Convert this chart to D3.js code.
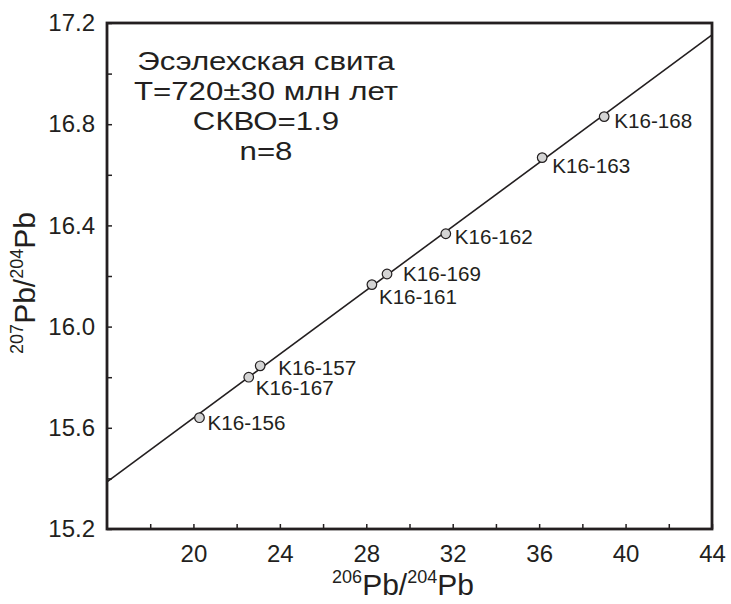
<!DOCTYPE html>
<html><head><meta charset="utf-8">
<script src="https://cdn.jsdelivr.net/npm/d3@7"></script>
<style>body{margin:0;background:#fff;} text{font-family:"Liberation Sans",Arial,sans-serif;fill:#231f20;}</style>
</head><body>
<svg id="c" width="731" height="604"></svg>
<script>
const samples = ["K16-156","K16-167","K16-157","K16-161","K16-169","K16-162","K16-163","K16-168"];
const pb206 = [20.28, 22.56, 23.09, 28.26, 28.96, 31.68, 36.14, 39.01];
const pb207 = [15.64, 15.80, 15.845, 16.166, 16.208, 16.367, 16.668, 16.83];
// label offsets (px) relative to point
const labelDx = [8, 7, 18, 7, 16, 9, 10, 10];
const labelDy = [12, 18, 9, 19, 7, 10, 15, 11];
const isoX = [16, 44];
const isoY = [15.386, 17.153];
const xTicks = [20, 24, 28, 32, 36, 40, 44];
const xMinor = [18, 22, 26, 30, 34, 38, 42];
const yTicks = [15.2, 15.6, 16.0, 16.4, 16.8, 17.2];
const yMinor = [15.4, 15.8, 16.2, 16.6, 17.0];
const annot = ["Эсэлехская свита", "T=720±30 млн лет", "СКВО=1.9", "n=8"];

const svg = d3.select("#c");
const L = 107, R = 712, T = 23, B = 529;
const x = d3.scaleLinear().domain([16, 44]).range([L, R]);
const y = d3.scaleLinear().domain([15.2, 17.2]).range([B, T]);

// isochron line
svg.append("line")
  .attr("x1", x(isoX[0])).attr("y1", y(isoY[0]))
  .attr("x2", x(isoX[1])).attr("y2", y(isoY[1]))
  .attr("stroke", "#231f20").attr("stroke-width", 1.6);

// axes
const xAxis = d3.axisBottom(x).tickValues(xTicks).tickSize(-5).tickPadding(16).tickFormat(d3.format("d"));
const gx = svg.append("g").attr("transform", `translate(0,${B})`).call(xAxis);
gx.select(".domain").remove();
gx.selectAll(".tick line").attr("stroke", "#231f20").attr("stroke-width", 1.5);
gx.selectAll(".tick text").attr("font-size", 24).attr("fill", "#231f20");
const gxm = svg.append("g").attr("transform", `translate(0,${B})`).call(d3.axisBottom(x).tickValues(xMinor).tickSize(-5).tickFormat(""));
gxm.select(".domain").remove();
gxm.selectAll(".tick line").attr("stroke", "#231f20").attr("stroke-width", 1.5);

const yAxis = d3.axisLeft(y).tickValues(yTicks).tickSize(-5).tickPadding(12).tickFormat(d3.format(".1f"));
const gy = svg.append("g").attr("transform", `translate(${L},0)`).call(yAxis);
gy.select(".domain").remove();
gy.selectAll(".tick line").attr("stroke", "#231f20").attr("stroke-width", 1.5);
gy.selectAll(".tick text").attr("font-size", 24).attr("fill", "#231f20");
const gym = svg.append("g").attr("transform", `translate(${L},0)`).call(d3.axisLeft(y).tickValues(yMinor).tickSize(-5).tickFormat(""));
gym.select(".domain").remove();
gym.selectAll(".tick line").attr("stroke", "#231f20").attr("stroke-width", 1.5);

// frame
svg.append("rect").attr("x", L).attr("y", T).attr("width", R - L).attr("height", B - T)
  .attr("fill", "none").attr("stroke", "#231f20").attr("stroke-width", 2.8);

// points
const data = samples.map((s, i) => ({s, x: pb206[i], y: pb207[i], dx: labelDx[i], dy: labelDy[i]}));
svg.selectAll("circle.pt").data(data).join("circle").attr("class", "pt")
  .attr("cx", d => x(d.x)).attr("cy", d => y(d.y)).attr("r", 4.8)
  .attr("fill", "#d4d4d4").attr("stroke", "#231f20").attr("stroke-width", 1.2);
const labG = svg.append("g");
labG.selectAll("text.lab").data(data).join("text").attr("class", "lab")
  .attr("x", d => x(d.x) + d.dx).attr("y", d => y(d.y) + d.dy)
  .attr("font-size", 20).attr("textLength", 78).attr("lengthAdjust", "spacingAndGlyphs").text(d => d.s);

// annotation: four lines, horizontally widened to match the reference's lettering
const annG = svg.append("g").attr("transform", "translate(266,0) scale(1.2,1)");
annG.selectAll("text.ann").data(annot).join("text").attr("class", "ann")
  .attr("x", 0).attr("y", (d, i) => 70 + i * 30)
  .attr("text-anchor", "middle").attr("font-size", 26).text(d => d);

// axis titles
const xt = svg.append("text").attr("x", 403).attr("y", 595).attr("text-anchor", "middle").attr("font-size", 30);
xt.append("tspan").attr("font-size", 18).attr("dy", -12).text("206");
xt.append("tspan").attr("dy", 12).text("Pb/");
xt.append("tspan").attr("font-size", 18).attr("dy", -12).text("204");
xt.append("tspan").attr("dy", 12).text("Pb");

const yt = svg.append("text").attr("transform", "translate(35,283) rotate(-90)").attr("text-anchor", "middle").attr("font-size", 30);
yt.append("tspan").attr("font-size", 18).attr("dy", -12).text("207");
yt.append("tspan").attr("dy", 12).text("Pb/");
yt.append("tspan").attr("font-size", 18).attr("dy", -12).text("204");
yt.append("tspan").attr("dy", 12).text("Pb");
</script>
</body></html>
